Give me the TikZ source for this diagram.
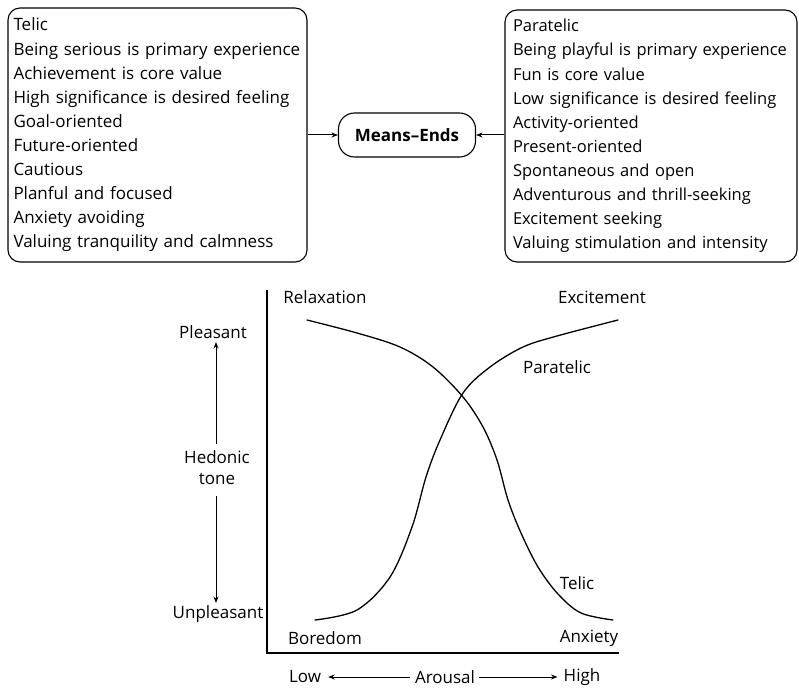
\documentclass[tikz,border=0pt]{standalone}
\usepackage{fontspec}
\setmainfont{Open Sans}
\usetikzlibrary{arrows.meta}
\begin{document}
\begin{tikzpicture}[x=1pt,y=-1pt,
  every node/.style={font=\fontsize{17}{24.1}\selectfont, inner sep=0pt, text=black},
  listbox/.style={draw, line width=1.1pt, rounded corners=12pt, align=left, inner ysep=0pt},
  pillbox/.style={draw, line width=1.1pt, rounded corners=16pt,
    minimum width=137pt, minimum height=44pt, font=\fontsize{17}{18}\selectfont\bfseries},
  link/.style={line width=1pt, -{Stealth[length=6.5pt,width=5pt]}},
  axis/.style={line width=1.4pt},
  curve/.style={line width=1.3pt, line cap=round}]
\useasboundingbox (0,0) rectangle (799,687);

% characteristic lists of the two states
\node[listbox, text width=288pt, inner xsep=5.5pt, minimum height=254pt] (telic) at (157.5,135) {%
Telic\\
Being serious is primary experience\\
Achievement is core value\\
High significance is desired feeling\\
Goal-oriented\\
Future-oriented\\
Cautious\\
Planful and focused\\
Anxiety avoiding\\
Valuing tranquility and calmness};

\node[listbox, text width=276pt, inner xsep=8pt, minimum height=252pt,
  font=\fontsize{16.5}{24.1}\selectfont] (paratelic) at (651,136) {%
Paratelic\\
Being playful is primary experience\\
Fun is core value\\
Low significance is desired feeling\\
Activity-oriented\\
Present-oriented\\
Spontaneous and open\\
Adventurous and thrill-seeking\\
Excitement seeking\\
Valuing stimulation and intensity};

\node[pillbox] (means) at (407,135) {Means–Ends};
\draw[link] (telic.east |- means) -- (means.west);
\draw[link] (paratelic.west |- means) -- (means.east);

% axes of the reversal graph
\coordinate (origin) at (267,653);
\coordinate (ytop) at (267,290);
\coordinate (xend) at (619,653);
\draw[axis] (ytop) -- (origin) -- (xend);

% hedonic tone scale
\node (hedonic) at (217,469) {\begin{tabular}{@{}c@{}}Hedonic\\[-3pt]tone\end{tabular}};
\node (pleasant) at (213,332) {Pleasant};
\node (unpleasant) at (218,614) {Unpleasant};
\draw[link] (216,444) -- (216,342);
\draw[link] (216,496) -- (216,603);

% arousal scale
\node (low) at (305,677) {Low};
\node (arousal) at (445,677) {Arousal};
\node (high) at (582,677) {High};
\draw[link] (arousal.west) ++(-5,0) -- ([xshift=7pt]low.east);
\draw[link] (arousal.east) ++(4,0) -- ([xshift=-6pt]high.west);

% corner labels
\node (relax) at (325,297) {Relaxation};
\node (excite) at (602,297) {Excitement};
\node (bored) at (325,638) {Boredom};
\node (anx) at (589,638) {Anxiety};
\node (paralbl) at (557,367) {Paratelic};
\node (teliclbl) at (577,583) {Telic};

% telic and paratelic curves
\draw[curve] plot[smooth, tension=0.55] coordinates {(307,320) (357,333) (400,347) (433,367) (463,397) (483,427) (497,460) (508,500) (521,533) (538,567) (558,594) (581,613) (613,620)};
\draw[curve] plot[smooth, tension=0.55] coordinates {(315,620) (357,610) (390,577) (412,527) (426,477) (440,440) (463,393) (490,367) (523,347) (557,336) (618,320)};
\end{tikzpicture}
\end{document}
